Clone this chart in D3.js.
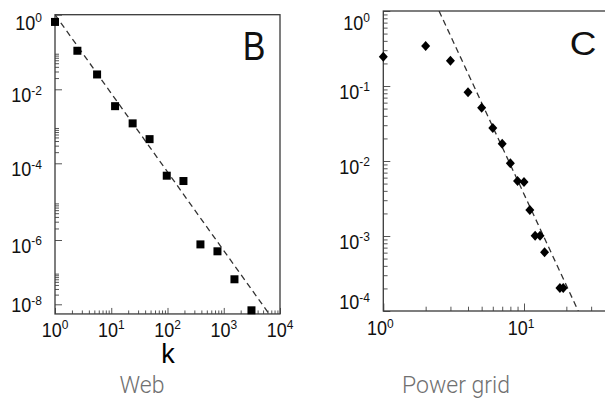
<!DOCTYPE html>
<html><head><meta charset="utf-8">
<script src="https://cdn.jsdelivr.net/npm/d3@7"></script>
<style>body{margin:0;background:#fff}svg{display:block}</style>
</head><body>
<svg id="chart" width="605" height="405"></svg>
<script>
// ---------- Panel B : Web ----------
const webK = [1, 2.5, 5.6, 11.7, 24, 48, 97, 192, 385, 773, 1550, 3110];
const webP = [0.64, 0.108, 0.025, 3.5e-3, 1.2e-3, 4.5e-4, 4.75e-5, 3.45e-5, 7.3e-7, 4.45e-7, 6.0e-8, 6.5e-9];
const webFitK = [1, 6400];
const webFitP = [1, 5e-9];
const webXTicks = [1, 10, 100, 1000, 10000];
const webYTicks = [1, 1e-2, 1e-4, 1e-6, 1e-8];
// ---------- Panel C : Power grid ----------
const gridK = [1, 2, 3, 4, 5, 6, 7, 8, 9, 10, 11, 12, 13, 14, 18, 19];
const gridP = [0.246, 0.341, 0.217, 0.0824, 0.0514, 0.0275, 0.017, 0.0093, 0.0054, 0.00525, 0.00222, 0.00101, 0.00101, 6.07e-4, 2.02e-4, 2.02e-4];
const gridFitK = [2.49, 24.3];
const gridFitP = [1, 1e-4];
const gridXTicks = [1, 10];
const gridYTicks = [1, 1e-1, 1e-2, 1e-3, 1e-4];
const panelLetters = ["B", "C"];
const panelNames = ["Web", "Power grid"];
const xTitle = "k";

const svg = d3.select("#chart");
const FONT = "'Liberation Sans', Arial, Helvetica, sans-serif";
const LIGHT = "Roboto, 'Open Sans', Lato, 'Liberation Sans', sans-serif";

// scales (panel B image is non-uniform in y, so piecewise log)
const xB = d3.scaleLog().domain([1, 1e4]).range([55, 280]);
const yB = d3.scaleLog().domain([1, 1e-2, 1e-4, 1e-6, 1e-8]).range([14.7, 89.3, 163.3, 240, 304.3]);
const yBbottom = yB(Math.pow(10, -8.3));
const xC = d3.scaleLog().domain([1, 10]).range([383.3, 524]);
const yC = d3.scaleLog().domain([1, 1e-4]).range([11, 311]);
const xCmax = 42;

function minors(lo, hi, filter) {
  const out = [];
  for (let e = lo; e < hi; e++) {
    if (filter && !filter(e)) continue;
    for (let m = 2; m <= 9; m++) out.push(m * Math.pow(10, e));
  }
  return out;
}

function powLabel(g, x, y, v, anchor) {
  const t = g.append("text")
    .attr("transform", `translate(${x},${y}) scale(1,1.12)`)
    .attr("text-anchor", anchor).attr("font-family", FONT)
    .attr("font-size", 18).attr("fill", "#111");
  t.append("tspan").text("10");
  t.append("tspan").attr("dy", -6.5).attr("font-size", 12).text(String(Math.round(Math.log10(v))));
}

function styleAxis(g) {
  g.select(".domain").remove();
  g.selectAll("line").attr("stroke", "#555").attr("stroke-width", 1);
}

// ---------- Panel B ----------
const gB = svg.append("g");
gB.append("clipPath").attr("id", "clipB").append("rect")
  .attr("x", xB(1)).attr("y", yB(1)).attr("width", xB(1e4) - xB(1)).attr("height", yBbottom - yB(1));

gB.append("g").attr("transform", `translate(0,${yBbottom})`)
  .call(d3.axisBottom(xB).tickValues(webXTicks).tickSize(-6).tickSizeOuter(0).tickFormat(""))
  .call(styleAxis);
gB.append("g").attr("transform", `translate(0,${yBbottom})`)
  .call(d3.axisBottom(xB).tickValues(minors(0, 4)).tickSize(-3.5).tickSizeOuter(0).tickFormat(""))
  .call(styleAxis);
gB.append("g").attr("transform", `translate(${xB(1)},0)`)
  .call(d3.axisLeft(yB).tickValues(webYTicks).tickSize(-7).tickSizeOuter(0).tickFormat(""))
  .call(styleAxis);
gB.append("g").attr("transform", `translate(${xB(1)},0)`)
  .call(d3.axisLeft(yB).tickValues(minors(-8, 0, e => ((-e) % 2) === 0)).tickSize(-4).tickSizeOuter(0).tickFormat(""))
  .call(styleAxis);

gB.append("rect").attr("x", xB(1)).attr("y", yB(1))
  .attr("width", xB(1e4) - xB(1)).attr("height", yBbottom - yB(1))
  .attr("fill", "none").attr("stroke", "#3a3a3a").attr("stroke-width", 1.3);

gB.append("path")
  .datum(webFitK.map((k, i) => [k, webFitP[i]]))
  .attr("clip-path", "url(#clipB)")
  .attr("d", d3.line().x(d => xB(d[0])).y(d => yB(d[1])))
  .attr("fill", "none").attr("stroke", "#333").attr("stroke-width", 1.3)
  .attr("stroke-dasharray", "6,4");

gB.selectAll("rect.pt").data(webK.map((k, i) => [k, webP[i]])).enter()
  .append("rect").attr("class", "pt")
  .attr("x", d => xB(d[0]) - 4).attr("y", d => yB(d[1]) - 4)
  .attr("width", 8).attr("height", 8).attr("fill", "#000");

webXTicks.forEach(v => powLabel(gB, xB(v), 336.5, v, "middle"));
webYTicks.forEach(v => powLabel(gB, 42, Math.max(29.5, Math.min(312, yB(v) + 12.5)), v, "end"));

gB.append("text").attr("x", 254).attr("y", 60.5).attr("text-anchor", "middle")
  .attr("font-family", FONT).attr("font-size", 40).attr("fill", "#111")
  .attr("transform", "translate(254,0) scale(0.85,1) translate(-254,0)")
  .text(panelLetters[0]);
gB.append("text").attr("x", 168).attr("y", 363).attr("text-anchor", "middle")
  .attr("font-family", FONT).attr("font-size", 27).attr("fill", "#000").text(xTitle);
gB.append("text").attr("x", 142).attr("y", 393).attr("text-anchor", "middle")
  .attr("font-family", LIGHT).attr("font-weight", 300).attr("font-size", 23).attr("fill", "#707070")
  .text(panelNames[0]);

// ---------- Panel C ----------
const gC = svg.append("g");
gC.append("clipPath").attr("id", "clipC").append("rect")
  .attr("x", xC(1)).attr("y", yC(1)).attr("width", xC(xCmax) - xC(1)).attr("height", yC(1e-4) - yC(1));

gC.append("g").attr("transform", `translate(0,${yC(1e-4)})`)
  .call(d3.axisBottom(xC).tickValues(gridXTicks).tickSize(-7.5).tickSizeOuter(0).tickFormat(""))
  .call(styleAxis);
gC.append("g").attr("transform", `translate(0,${yC(1e-4)})`)
  .call(d3.axisBottom(xC).tickValues(minors(0, 2).filter(v => v <= xCmax)).tickSize(-4.3).tickSizeOuter(0).tickFormat(""))
  .call(styleAxis);
gC.append("g").attr("transform", `translate(${xC(1)},0)`)
  .call(d3.axisLeft(yC).tickValues(gridYTicks).tickSize(-7).tickSizeOuter(0).tickFormat(""))
  .call(styleAxis);
gC.append("g").attr("transform", `translate(${xC(1)},0)`)
  .call(d3.axisLeft(yC).tickValues(minors(-4, 0)).tickSize(-4.3).tickSizeOuter(0).tickFormat(""))
  .call(styleAxis);

gC.append("rect").attr("x", xC(1)).attr("y", yC(1))
  .attr("width", xC(xCmax) - xC(1)).attr("height", yC(1e-4) - yC(1))
  .attr("fill", "none").attr("stroke", "#3a3a3a").attr("stroke-width", 1.3);

gC.append("path")
  .datum(gridFitK.map((k, i) => [k, gridFitP[i]]))
  .attr("clip-path", "url(#clipC)")
  .attr("d", d3.line().x(d => xC(d[0])).y(d => yC(d[1])))
  .attr("fill", "none").attr("stroke", "#333").attr("stroke-width", 1.3)
  .attr("stroke-dasharray", "6,4");

gC.selectAll("path.pt").data(gridK.map((k, i) => [k, gridP[i]])).enter()
  .append("path").attr("class", "pt")
  .attr("transform", d => `translate(${xC(d[0])},${yC(d[1])})`)
  .attr("d", "M0,-5L4.5,0L0,5L-4.5,0Z").attr("fill", "#000");

gridXTicks.forEach(v => powLabel(gC, xC(v) - 3, 335, v, "middle"));
gridYTicks.forEach(v => powLabel(gC, 370, Math.max(29.5, Math.min(309, yC(v) + 12.5)), v, "end"));

gC.append("text").attr("x", 583).attr("y", 55).attr("text-anchor", "middle")
  .attr("font-family", FONT).attr("font-size", 33).attr("fill", "#111")
  .attr("transform", "translate(583,0) scale(1.12,1) translate(-583,0)")
  .text(panelLetters[1]);
gC.append("text").attr("x", 456).attr("y", 393).attr("text-anchor", "middle")
  .attr("font-family", LIGHT).attr("font-weight", 300).attr("font-size", 23).attr("fill", "#707070")
  .text(panelNames[1]);
</script>
</body></html>
